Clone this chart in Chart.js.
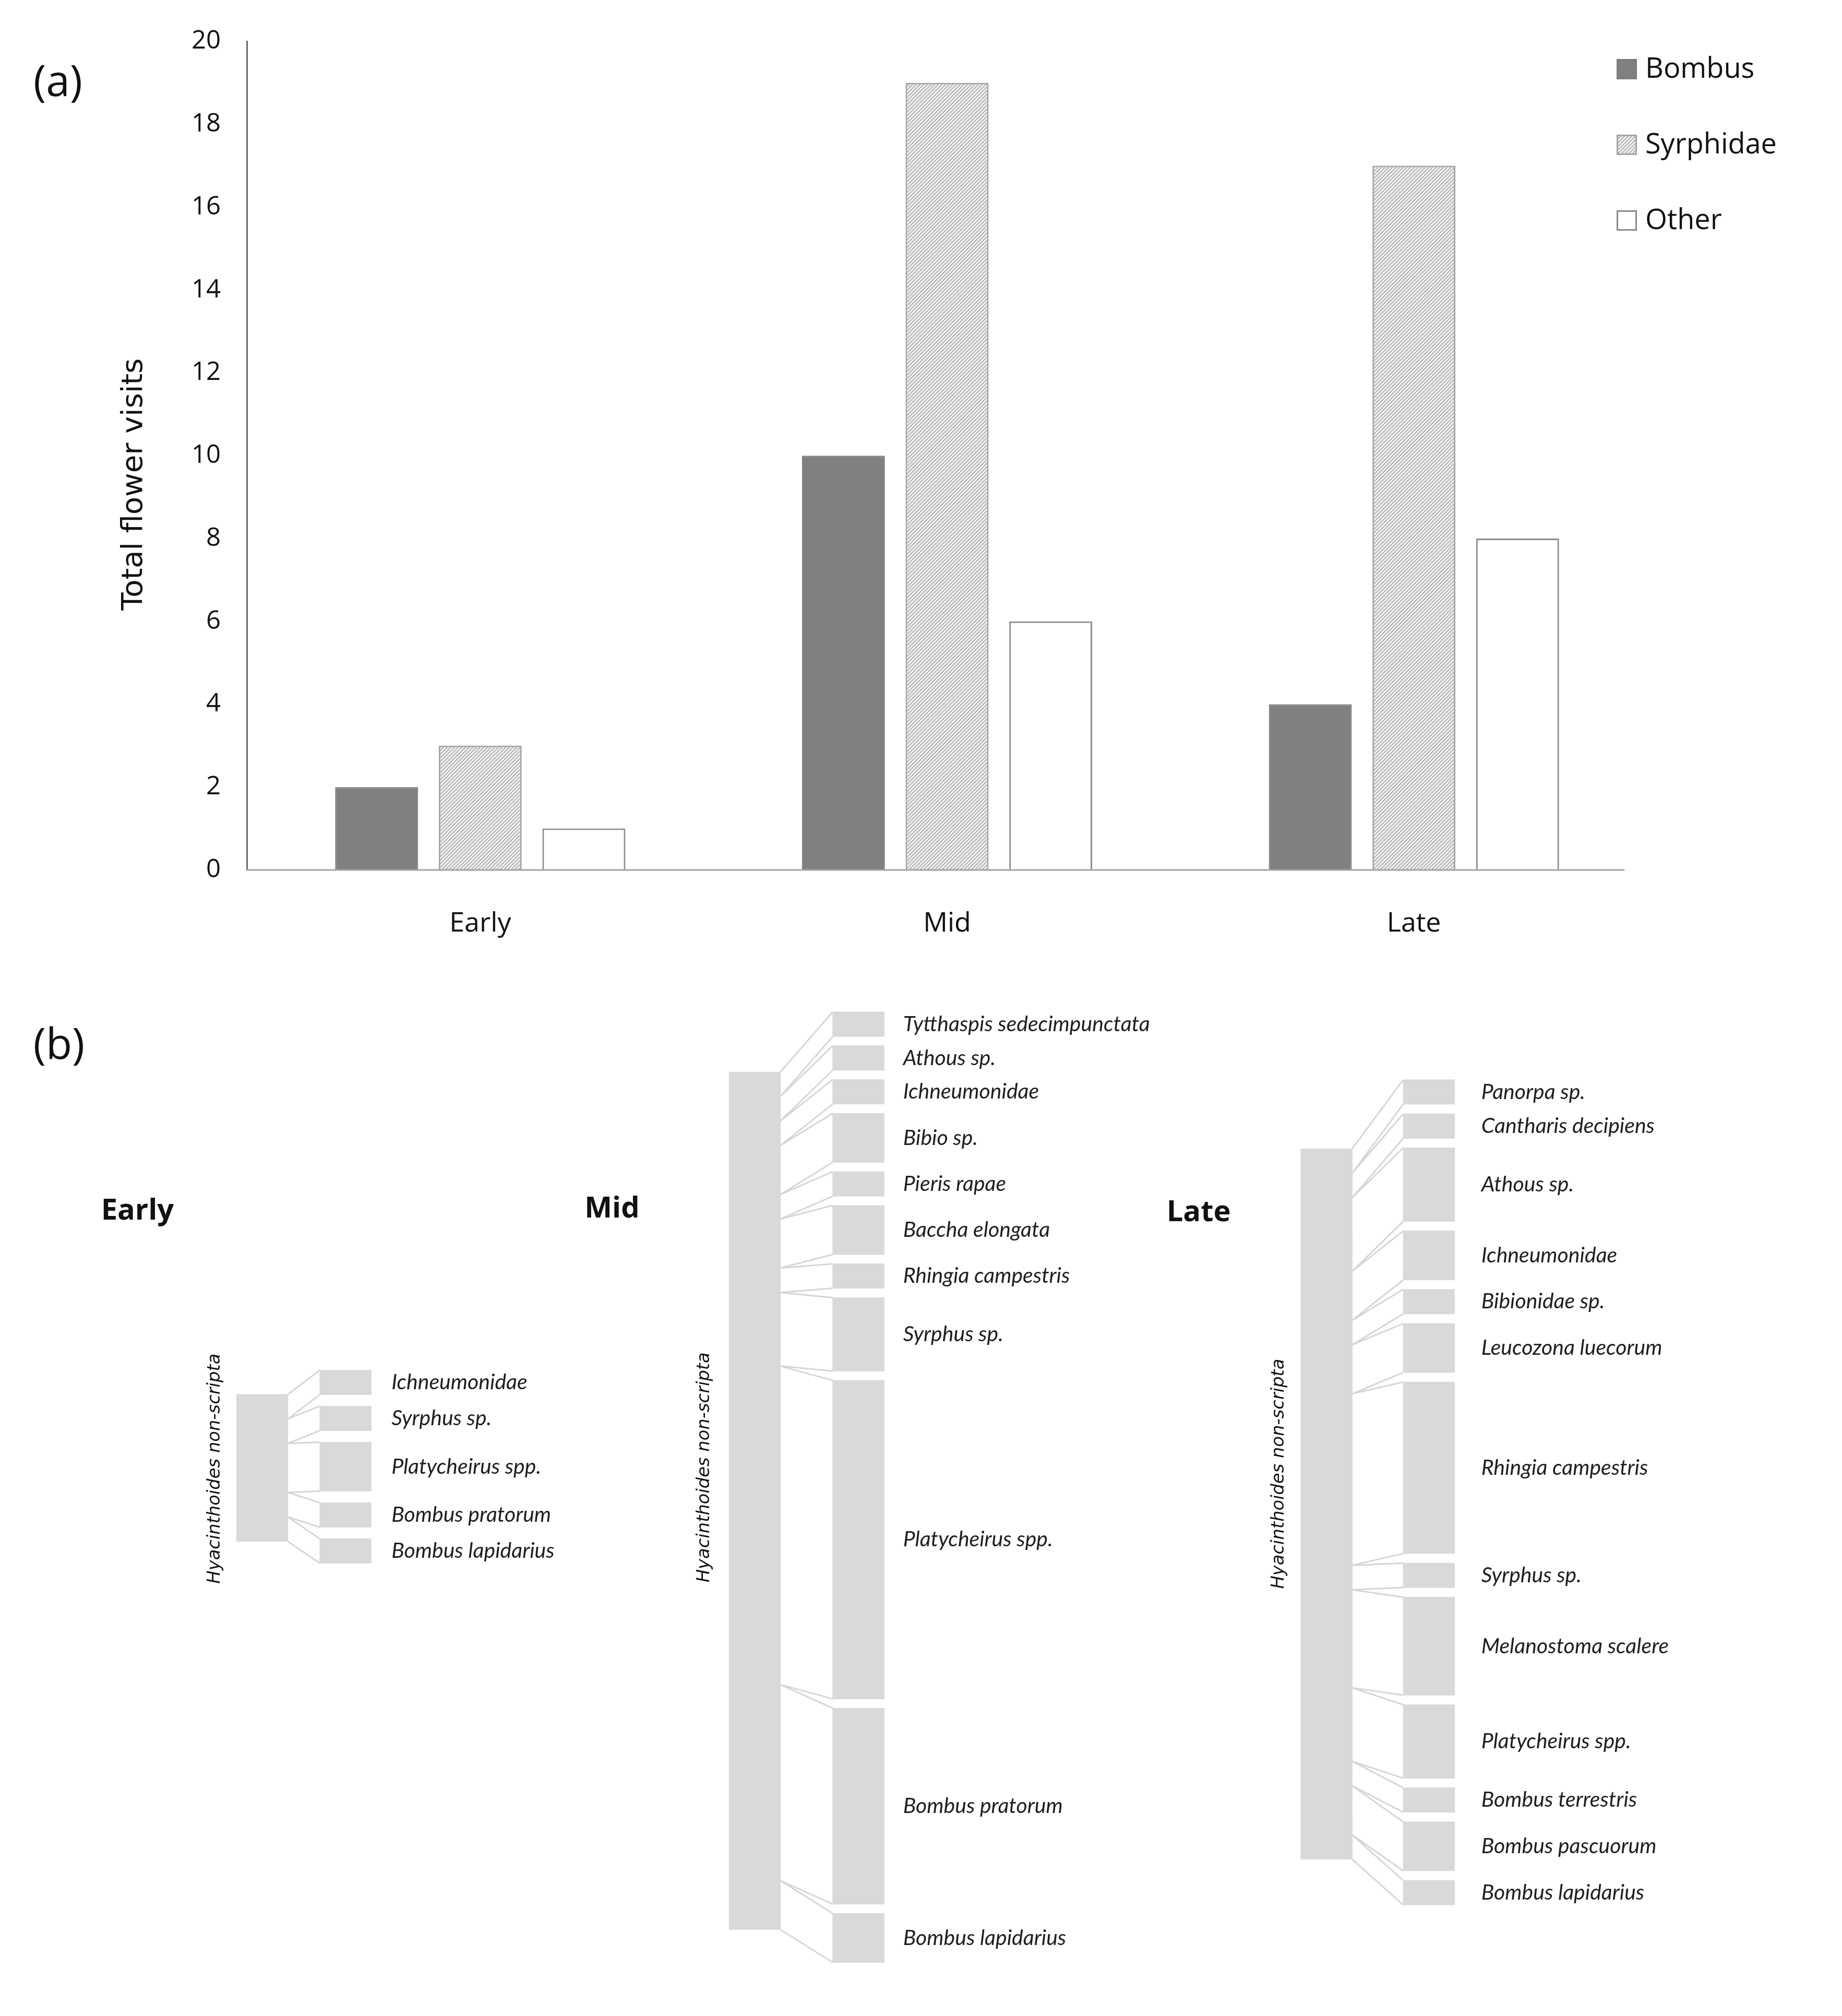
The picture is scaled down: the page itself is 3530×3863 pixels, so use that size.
<!DOCTYPE html>
<html lang="en">
<head>
<meta charset="UTF-8">
<title>Flower visits to Hyacinthoides non-scripta</title>
<script src="https://cdn.jsdelivr.net/npm/chart.js"></script>
<style>
  html, body { margin: 0; padding: 0; background: #fff; }
  #page { position: relative; width: 3530px; height: 3863px; background: #fff; overflow: hidden; }
  #chartA { position: absolute; left: 0; top: 0; }
  #chartB { position: absolute; left: 0; top: 1888px; }
</style>
</head>
<body>
<div id="page">
  <canvas id="chartA" width="3530" height="1888"></canvas>
  <canvas id="chartB" width="3530" height="1975"></canvas>
</div>

<script>
// ---- (a) total visits per flowering period ----
const periods = ['Early', 'Mid', 'Late'];
const bombusVisits = [2, 10, 4];
const syrphidaeVisits = [3, 19, 17];
const otherVisits = [1, 6, 8];
const yMax = 20;
const yStep = 2;

// ---- (b) visitor webs, one per period ----
const plantName = 'Hyacinthoides non-scripta';
const earlyVisitors = ['Ichneumonidae', 'Syrphus sp.', 'Platycheirus spp.', 'Bombus pratorum', 'Bombus lapidarius'];
const earlyCounts = [1, 1, 2, 1, 1];
const midVisitors = ['Tytthaspis sedecimpunctata', 'Athous sp.', 'Ichneumonidae', 'Bibio sp.', 'Pieris rapae',
    'Baccha elongata', 'Rhingia campestris', 'Syrphus sp.', 'Platycheirus spp.', 'Bombus pratorum', 'Bombus lapidarius'];
const midCounts = [1, 1, 1, 2, 1, 2, 1, 3, 13, 8, 2];
const lateVisitors = ['Panorpa sp.', 'Cantharis decipiens', 'Athous sp.', 'Ichneumonidae', 'Bibionidae sp.',
    'Leucozona luecorum', 'Rhingia campestris', 'Syrphus sp.', 'Melanostoma scalere', 'Platycheirus spp.',
    'Bombus terrestris', 'Bombus pascuorum', 'Bombus lapidarius'];
const lateCounts = [1, 1, 3, 2, 1, 2, 7, 1, 4, 3, 1, 2, 1];

// layout, measured on a 1440 wide sketch of the figure
const S = 3530 / 1440;
const B_TOP = 1888;                 // top of panel (b) canvas, px
const VISIT = 19.15;                // sketch units per visit in panel (b)
const plantX = [185, 570, 1017];    // left edge of plant bar
const visitorX = [250, 651, 1097];  // left edge of visitor boxes
const BOX_W = 40;
const labelX = [306, 706, 1158];
const stackTop = [1071, 791, 844];  // sketch y of first visitor box
const plantTop = [1090, 838, 898];
const boxGap = [0.47, 0.38, 0.39];  // gap between visitor boxes, in visits
const titlePos = [[79, 947], [457, 945], [912, 948]];
const plantLabelPos = [[168, 1148], [551, 1147], [1000, 1152]];

function fitSize(text, style, family, target) {
    const g = document.createElement('canvas').getContext('2d');
    g.font = style + ' 100px "' + family + '"';
    return 100 * target / g.measureText(text).width;
}

// diagonal hatch for Syrphidae
const hatch = (function () {
    const c = document.createElement('canvas');
    c.width = c.height = 7;
    const g = c.getContext('2d');
    g.fillStyle = '#efefef';
    g.fillRect(0, 0, 7, 7);
    g.strokeStyle = '#9a9a9a';
    g.lineWidth = 1.4;
    g.beginPath();
    g.moveTo(-1, 8); g.lineTo(8, -1);
    g.moveTo(-1, 1); g.lineTo(1, -1);
    g.moveTo(6, 8); g.lineTo(8, 6);
    g.stroke();
    return g.createPattern(c, 'repeat');
})();

const panelA = {
    id: 'panelA',
    afterDatasetsDraw(chart) {
        const {ctx, chartArea, scales: {y}} = chart;
        const yb = y.getPixelForValue(0);
        ctx.save();
        ctx.strokeStyle = '#a3a3a3';
        ctx.lineWidth = 3;
        ctx.beginPath();
        ctx.moveTo(chartArea.left, yb);
        ctx.lineTo(1270 * S, yb);
        ctx.stroke();

        // legend
        ctx.font = '54px "Open Sans"';
        ctx.textBaseline = 'middle';
        ctx.fillStyle = '#111';
        chart.data.datasets.forEach((ds, i) => {
            const cy = 132 + i * 145;
            ctx.fillStyle = ds.backgroundColor;
            ctx.fillRect(3098, cy - 19, 39, 39);
            ctx.strokeStyle = ds.borderColor;
            ctx.lineWidth = 3;
            ctx.strokeRect(3099.5, cy - 17.5, 36, 36);
            ctx.fillStyle = '#111';
            ctx.fillText(ds.label, 3153, cy + 2);
        });

        ctx.font = '82px "Open Sans"';
        ctx.fillText('(a)', 64, 161);

        const title = 'Total flower visits';
        ctx.font = fitSize(title, '', 'DejaVu Sans', 483) + 'px "DejaVu Sans"';
        ctx.translate(257, 928);
        ctx.rotate(-Math.PI / 2);
        ctx.textAlign = 'center';
        ctx.fillText(title, 0, 0);
        ctx.restore();
    }
};

new Chart(document.getElementById('chartA'), {
    type: 'bar',
    data: {
        labels: periods,
        datasets: [
            {label: 'Bombus', data: bombusVisits, backgroundColor: '#808080', borderColor: '#7c7c7c', borderWidth: 2},
            {label: 'Syrphidae', data: syrphidaeVisits, backgroundColor: hatch, borderColor: '#a3a3a3', borderWidth: 3},
            {label: 'Other', data: otherVisits, backgroundColor: '#ffffff', borderColor: '#8a8a8a', borderWidth: 3}
        ]
    },
    options: {
        responsive: false,
        devicePixelRatio: 1,
        animation: false,
        events: [],
        layout: {padding: {left: 0, top: 78, right: 373, bottom: 0}},
        datasets: {bar: {categoryPercentage: 0.666, barPercentage: 0.8}},
        plugins: {legend: {display: false}, tooltip: {enabled: false}},
        scales: {
            x: {
                grid: {display: false, drawTicks: false},
                border: {display: false},
                ticks: {padding: 72, color: '#111', font: {family: 'Open Sans', size: 52}},
                afterFit: s => { s.height = 221; }
            },
            y: {
                min: 0, max: yMax,
                grid: {display: false, drawTicks: false},
                border: {display: true, color: '#6b6b6b', width: 3},
                ticks: {stepSize: yStep, padding: 50, color: '#111', font: {family: 'Open Sans', size: 49}},
                afterFit: s => { s.width = 473; }
            }
        }
    },
    plugins: [panelA]
});

// ---- build panel (b) geometry from the counts ----
const webs = [
    {names: earlyVisitors, counts: earlyCounts},
    {names: midVisitors, counts: midCounts},
    {names: lateVisitors, counts: lateCounts}
];
const toVisits = sy => (sy - B_TOP / S) / VISIT;
const boxPts = [];
const linkPts = [];
const visitorLabels = [];

function addRect(x0, x1, y0, y1) {
    boxPts.push({x: x0, y: y0}, {x: x1, y: y0}, {x: x1, y: y1}, {x: x0, y: y1}, {x: x0, y: y0}, {x: x0, y: null});
}
function addLink(xa, ya, xb, yb) {
    linkPts.push({x: xa, y: ya}, {x: xb, y: yb}, {x: xa, y: null});
}

webs.forEach((web, n) => {
    const total = web.counts.reduce((a, b) => a + b, 0);
    const pTop = toVisits(plantTop[n]);
    const sTop = toVisits(stackTop[n]);
    const pRight = plantX[n] + BOX_W;
    addRect(plantX[n], pRight, pTop, pTop + total);
    let cum = 0;
    web.counts.forEach((c, k) => {
        const top = sTop + cum + k * boxGap[n];
        addRect(visitorX[n], visitorX[n] + BOX_W, top, top + c);
        addLink(pRight, pTop + cum, visitorX[n], top);
        addLink(pRight, pTop + cum + c, visitorX[n], top + c);
        visitorLabels.push({x: labelX[n], y: top + c / 2, text: web.names[k]});
        cum += c;
    });
});

const visitorFont = fitSize('Tytthaspis sedecimpunctata', 'italic', 'Lato', 193 * S);
const plantFont = fitSize(plantName, 'italic', 'DejaVu Sans', 180 * S);

const panelB = {
    id: 'panelB',
    afterDatasetsDraw(chart) {
        const {ctx, scales: {x, y}} = chart;
        ctx.save();
        ctx.fillStyle = '#1e1e1e';
        ctx.textBaseline = 'middle';
        ctx.font = 'italic ' + visitorFont + 'px Lato';
        visitorLabels.forEach(l => ctx.fillText(l.text, x.getPixelForValue(l.x), y.getPixelForValue(l.y)));

        ctx.fillStyle = '#111';
        ctx.font = 'bold 56px "Open Sans"';
        titlePos.forEach((p, i) => ctx.fillText(periods[i], x.getPixelForValue(p[0]), y.getPixelForValue(toVisits(p[1]))));

        ctx.font = '82px "Open Sans"';
        ctx.fillText('(b)', x.getPixelForValue(26), y.getPixelForValue(toVisits(818)));

        ctx.font = 'italic ' + plantFont + 'px "DejaVu Sans"';
        ctx.textAlign = 'center';
        plantLabelPos.forEach(p => {
            ctx.save();
            ctx.translate(x.getPixelForValue(p[0]), y.getPixelForValue(toVisits(p[1])));
            ctx.rotate(-Math.PI / 2);
            ctx.fillText(plantName, 0, 0);
            ctx.restore();
        });
        ctx.restore();
    }
};

new Chart(document.getElementById('chartB'), {
    type: 'scatter',
    data: {
        datasets: [
            {label: 'boxes', data: boxPts, showLine: true, fill: 'shape', backgroundColor: '#d9d9d9',
             borderColor: '#d9d9d9', borderWidth: 1, pointRadius: 0, pointHoverRadius: 0},
            {label: 'links', data: linkPts, showLine: true, fill: false, borderColor: '#d6d6d6',
             borderWidth: 3, pointRadius: 0, pointHoverRadius: 0}
        ]
    },
    options: {
        responsive: false,
        devicePixelRatio: 1,
        animation: false,
        events: [],
        layout: {padding: 0},
        plugins: {legend: {display: false}, tooltip: {enabled: false}},
        scales: {
            x: {type: 'linear', display: false, min: 0, max: 1440},
            y: {type: 'linear', display: false, reverse: true, min: 0, max: 1975 / (VISIT * S)}
        }
    },
    plugins: [panelB]
});
</script>
</body>
</html>
